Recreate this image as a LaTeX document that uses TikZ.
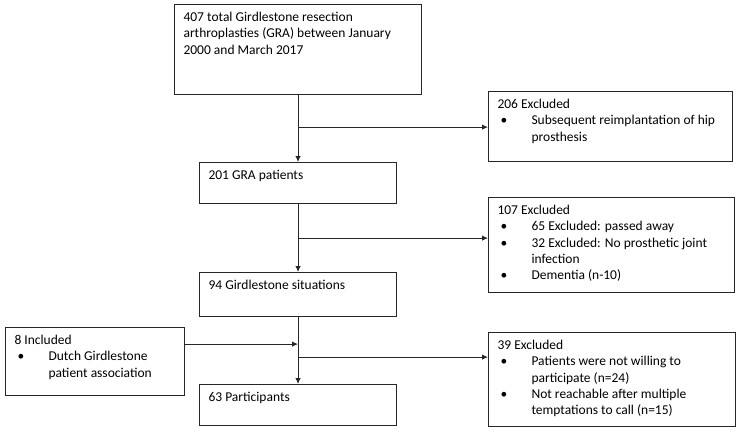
\documentclass[tikz,border=0pt]{standalone}
\usepackage{fontspec}
\setmainfont{Carlito}
\usetikzlibrary{arrows.meta,positioning,calc}

\newcommand{\boxtext}[3]{\begin{minipage}[t][#2pt][t]{#1pt}\raggedright\rule{0pt}{17pt}#3\end{minipage}}
\newcommand{\bul}{\par\hangindent=34pt\hangafter=0\noindent\llap{\makebox[31pt][l]{\textbullet}}}

\tikzset{
  box/.style={draw=black!85, line width=1.1pt, anchor=north west, inner xsep=9pt, inner ysep=0pt,
    font=\fontsize{13.5}{16.3}\selectfont},
  flow/.style={draw=black!85, line width=1pt, -{Latex[length=6pt,width=5.5pt]}}
}

\begin{document}
\begin{tikzpicture}[x=1pt,y=-1pt]
  \useasboundingbox (0,0) rectangle (739,440);

  \node (total) [box] at (174,4) {\boxtext{229}{90}{407 total Girdlestone resection\newline arthroplasties (GRA) between January\newline 2000 and March 2017}};
  \node (gra) [box] at (199,162) {\boxtext{179}{41}{201 GRA patients}};
  \node (sit) [box] at (199,272) {\boxtext{179}{44}{94 Girdlestone situations}};
  \node (part) [box] at (199,384) {\boxtext{179}{41}{63 Participants}};

  \node (exc1) [box] at (488,91) {\boxtext{226}{70}{206 Excluded
    \bul Subsequent reimplantation of hip\newline prosthesis}};
  \node (exc2) [box] at (488,197) {\boxtext{228}{95}{107 Excluded
    \bul 65 Excluded: passed away
    \bul 32 Excluded: No prosthetic joint\newline infection
    \bul Dementia (n-10)}};
  \node (exc3) [box] at (488,332) {\boxtext{229}{94}{39 Excluded
    \bul Patients were not willing to\newline participate (n=24)
    \bul Not reachable after multiple\newline temptations to call (n=15)}};
  \node (incl) [box] at (5,327) {\boxtext{161}{68}{8 Included
    \bul Dutch Girdlestone\newline patient association}};

  \coordinate (j1) at ($(total.south)+(0,32)$);
  \coordinate (j2) at ($(gra.south)+(0,34)$);
  \coordinate (j3) at ($(sit.south)+(0,27)$);
  \coordinate (j4) at ($(sit.south)+(0,40)$);

  \draw [flow] (total) -- (gra);
  \draw [flow] (gra) -- (sit);
  \draw [flow] (sit) -- (part);
  \draw [flow] (j1) -- (j1 -| exc1.west);
  \draw [flow] (j2) -- (j2 -| exc2.west);
  \draw [flow] (j4) -- (j4 -| exc3.west);
  \draw [flow] (j3 -| incl.east) -- (j3);
\end{tikzpicture}
\end{document}
